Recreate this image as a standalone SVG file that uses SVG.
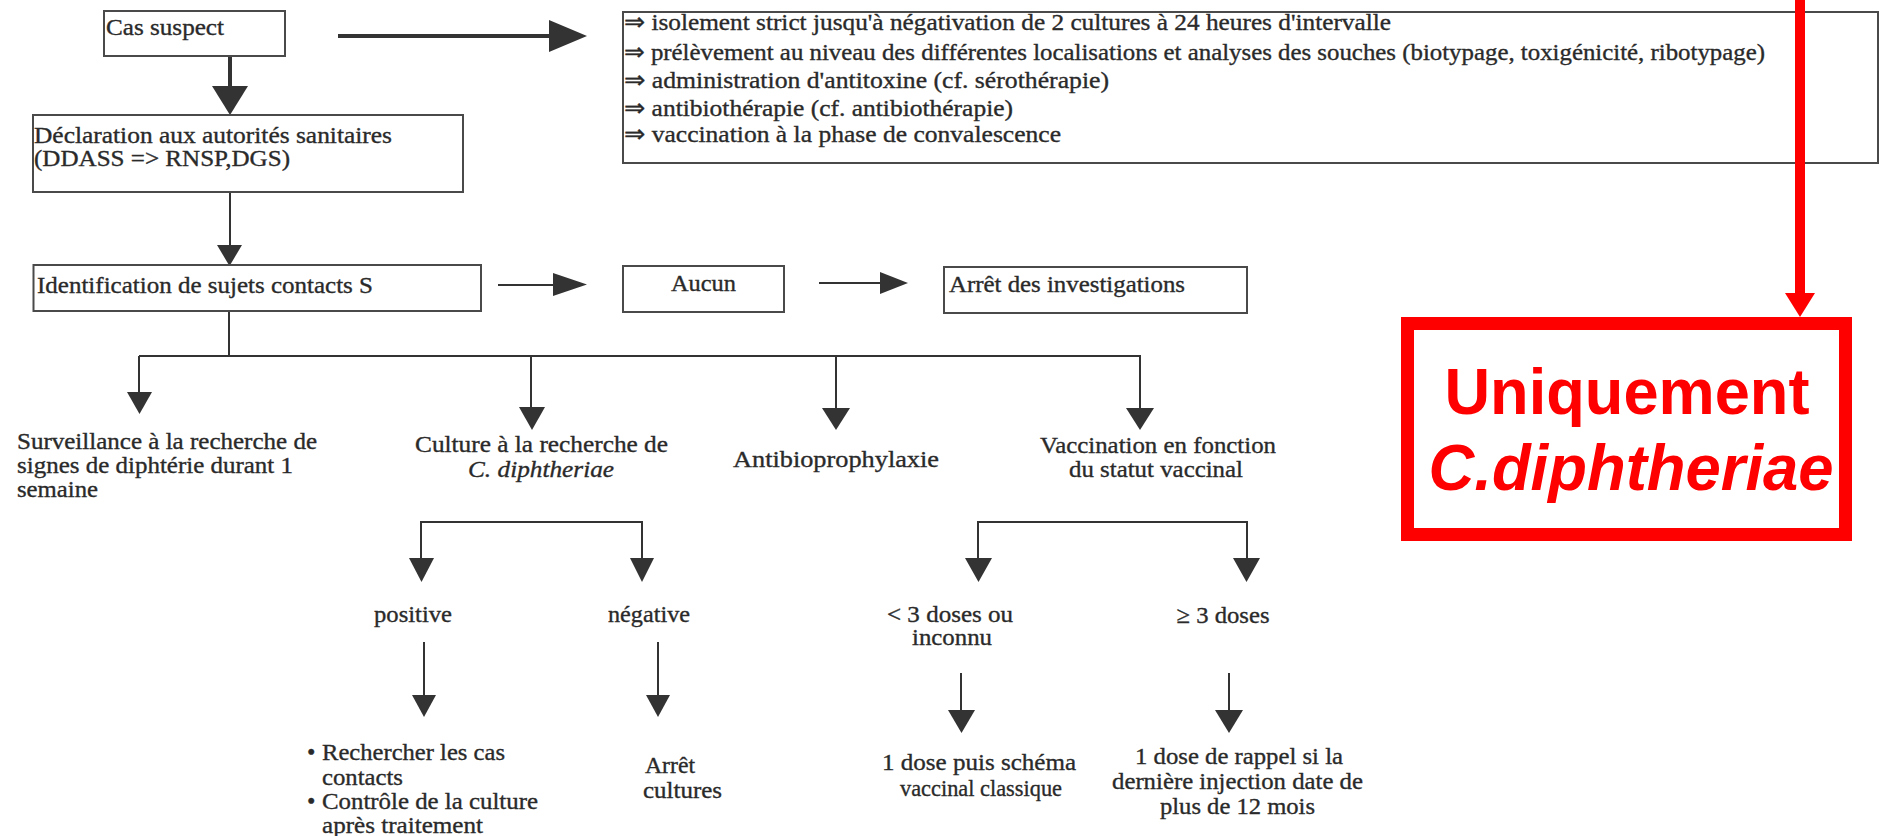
<svg xmlns="http://www.w3.org/2000/svg" width="1881" height="836" viewBox="0 0 1881 836">
<style>
  .bx{fill:none;stroke:#4a4a4a;stroke-width:2}
  .t{font-family:"Liberation Serif","Times New Roman",serif;font-size:24px;fill:#2a2a2a;stroke:#2a2a2a;stroke-width:0.35}
  .m{text-anchor:middle}
  .i{font-style:italic}
  .ln{stroke:#333;stroke-width:2;fill:none}
  .lnb{stroke:#333;stroke-width:4;fill:none}
  .hd{fill:#333}
  .red{font-family:"Liberation Sans",Arial,sans-serif;font-size:64px;font-weight:bold;fill:#ff0000;text-anchor:middle}
</style>
<rect x="0" y="0" width="1881" height="836" fill="#ffffff"/>

<g id="connectors">
  <line class="lnb" x1="230" y1="56" x2="230" y2="88"/>
  <polygon class="hd" points="212,86 248,86 230,115"/>
  <line class="lnb" x1="338" y1="36" x2="552" y2="36"/>
  <polygon class="hd" points="549,20 549,52 587,36"/>
  <line class="ln" x1="230" y1="192" x2="230" y2="247"/>
  <polygon class="hd" points="217,245 242,245 229.5,266"/>
  <line class="ln" x1="498" y1="285" x2="556" y2="285"/>
  <polygon class="hd" points="553,273 553,296 587,284.5"/>
  <line class="ln" x1="819" y1="283" x2="882" y2="283"/>
  <polygon class="hd" points="880,272 880,294 908,283"/>
  <polyline class="ln" points="229,311 229,356"/>
  <line class="ln" x1="139" y1="356" x2="1140" y2="356"/>
  <line class="ln" x1="139" y1="356" x2="139" y2="394"/>
  <polygon class="hd" points="127,392 152,392 139.5,414"/>
  <line class="ln" x1="531" y1="356" x2="531" y2="409"/>
  <polygon class="hd" points="519,407 545,407 532,430"/>
  <line class="ln" x1="836" y1="356" x2="836" y2="410"/>
  <polygon class="hd" points="822,408 850,408 836,430"/>
  <line class="ln" x1="1140" y1="355" x2="1140" y2="410"/>
  <polygon class="hd" points="1126,408 1154,408 1140,430"/>
  <polyline class="ln" points="421,560 421,522 642,522 642,560"/>
  <polygon class="hd" points="409,558 434,558 421.5,582"/>
  <polygon class="hd" points="630,558 654,558 642,582"/>
  <line class="ln" x1="424" y1="642" x2="424" y2="697"/>
  <polygon class="hd" points="412,695 436,695 424,717"/>
  <line class="ln" x1="658" y1="642" x2="658" y2="697"/>
  <polygon class="hd" points="646,695 670,695 658,717"/>
  <polyline class="ln" points="978,560 978,522 1247,522 1247,560"/>
  <polygon class="hd" points="965,558 992,558 978.5,582"/>
  <polygon class="hd" points="1233,558 1260,558 1246.5,582"/>
  <line class="ln" x1="961" y1="673" x2="961" y2="712"/>
  <polygon class="hd" points="948,710 975,710 961.5,733"/>
  <line class="ln" x1="1229" y1="673" x2="1229" y2="712"/>
  <polygon class="hd" points="1215,710 1243,710 1229,733"/>
</g>

<g id="cas-suspect">
  <rect class="bx" x="104" y="11" width="181" height="45"/>
  <text class="t" x="106" y="35" textLength="118" lengthAdjust="spacingAndGlyphs">Cas suspect</text>
</g>

<g id="declaration">
  <rect class="bx" x="33" y="115" width="430" height="77"/>
  <text class="t" x="34" y="143" textLength="358" lengthAdjust="spacingAndGlyphs">Déclaration aux autorités sanitaires</text>
  <text class="t" x="34" y="166" textLength="256" lengthAdjust="spacingAndGlyphs">(DDASS =&gt; RNSP,DGS)</text>
</g>

<g id="mesures">
  <rect class="bx" x="623" y="12" width="1255" height="151"/>
  <text class="t" x="624" y="30" textLength="767" lengthAdjust="spacingAndGlyphs">⇒ isolement strict jusqu'à négativation de 2 cultures à 24 heures d'intervalle</text>
  <text class="t" x="624" y="60" textLength="1141" lengthAdjust="spacingAndGlyphs">⇒ prélèvement au niveau des différentes localisations et analyses des souches (biotypage, toxigénicité, ribotypage)</text>
  <text class="t" x="624" y="88" textLength="485" lengthAdjust="spacingAndGlyphs">⇒ administration d'antitoxine (cf. sérothérapie)</text>
  <text class="t" x="624" y="116" textLength="389" lengthAdjust="spacingAndGlyphs">⇒ antibiothérapie (cf. antibiothérapie)</text>
  <text class="t" x="624" y="142" textLength="437" lengthAdjust="spacingAndGlyphs">⇒ vaccination à la phase de convalescence</text>
</g>

<g id="identification">
  <rect class="bx" x="33.5" y="265" width="447.5" height="46"/>
  <text class="t" x="37" y="293" textLength="336" lengthAdjust="spacingAndGlyphs">Identification de sujets contacts S</text>
</g>

<g id="aucun">
  <rect class="bx" x="623" y="266" width="161" height="46"/>
  <text class="t m" x="703.5" y="291" textLength="65" lengthAdjust="spacingAndGlyphs">Aucun</text>
</g>

<g id="arret-investigations">
  <rect class="bx" x="944" y="267" width="303" height="46"/>
  <text class="t" x="949" y="292" textLength="236" lengthAdjust="spacingAndGlyphs">Arrêt des investigations</text>
</g>

<g id="surveillance">
  <text class="t" x="17" y="449" textLength="300" lengthAdjust="spacingAndGlyphs">Surveillance à la recherche de</text>
  <text class="t" x="17" y="473" textLength="276" lengthAdjust="spacingAndGlyphs">signes de diphtérie durant 1</text>
  <text class="t" x="17" y="497" textLength="81" lengthAdjust="spacingAndGlyphs">semaine</text>
</g>

<g id="culture">
  <text class="t m" x="541.5" y="452" textLength="253" lengthAdjust="spacingAndGlyphs">Culture à la recherche de</text>
  <text class="t m i" x="541" y="477" textLength="146" lengthAdjust="spacingAndGlyphs">C. diphtheriae</text>
</g>

<g id="antibioprophylaxie">
  <text class="t m" x="836" y="467" textLength="206" lengthAdjust="spacingAndGlyphs">Antibioprophylaxie</text>
</g>

<g id="vaccination">
  <text class="t m" x="1158" y="453" textLength="236" lengthAdjust="spacingAndGlyphs">Vaccination en fonction</text>
  <text class="t m" x="1156" y="477" textLength="174" lengthAdjust="spacingAndGlyphs">du statut vaccinal</text>
</g>

<g id="positive">
  <text class="t m" x="413" y="622" textLength="78" lengthAdjust="spacingAndGlyphs">positive</text>
</g>

<g id="negative">
  <text class="t m" x="649" y="622" textLength="82" lengthAdjust="spacingAndGlyphs">négative</text>
</g>

<g id="positive-actions">
  <text class="t" x="307" y="760">•</text>
  <text class="t" x="322" y="760" textLength="183" lengthAdjust="spacingAndGlyphs">Rechercher les cas</text>
  <text class="t" x="322" y="785" textLength="81" lengthAdjust="spacingAndGlyphs">contacts</text>
  <text class="t" x="307" y="809">•</text>
  <text class="t" x="322" y="809" textLength="216" lengthAdjust="spacingAndGlyphs">Contrôle de la culture</text>
  <text class="t" x="322" y="833" textLength="161" lengthAdjust="spacingAndGlyphs">après traitement</text>
</g>

<g id="arret-cultures">
  <text class="t" x="645" y="773" textLength="50" lengthAdjust="spacingAndGlyphs">Arrêt</text>
  <text class="t" x="643" y="798" textLength="79" lengthAdjust="spacingAndGlyphs">cultures</text>
</g>

<g id="moins-3-doses">
  <text class="t m" x="950" y="622" textLength="126" lengthAdjust="spacingAndGlyphs">&lt; 3 doses ou</text>
  <text class="t m" x="952" y="645" textLength="80" lengthAdjust="spacingAndGlyphs">inconnu</text>
</g>

<g id="plus-3-doses">
  <text class="t m" x="1223" y="623" textLength="93" lengthAdjust="spacingAndGlyphs">≥ 3 doses</text>
</g>

<g id="schema-classique">
  <text class="t m" x="979" y="770" textLength="194" lengthAdjust="spacingAndGlyphs">1 dose puis schéma</text>
  <text class="t m" x="981" y="796" textLength="162" lengthAdjust="spacingAndGlyphs">vaccinal classique</text>
</g>

<g id="rappel">
  <text class="t m" x="1239" y="764" textLength="208" lengthAdjust="spacingAndGlyphs">1 dose de rappel si la</text>
  <text class="t m" x="1237.5" y="789" textLength="251" lengthAdjust="spacingAndGlyphs">dernière injection date de</text>
  <text class="t m" x="1237.5" y="814" textLength="155" lengthAdjust="spacingAndGlyphs">plus de 12 mois</text>
</g>

<g id="annotation">
  <line x1="1800" y1="0" x2="1800" y2="295" stroke="#ff0000" stroke-width="10"/>
  <polygon points="1785,293 1815,293 1800,317" fill="#ff0000"/>
  <rect x="1407.5" y="323.5" width="438" height="211" fill="none" stroke="#ff0000" stroke-width="13"/>
  <text class="red" x="1627" y="414" textLength="365" lengthAdjust="spacingAndGlyphs">Uniquement</text>
  <text class="red" x="1631" y="490" font-style="italic" textLength="405" lengthAdjust="spacingAndGlyphs">C.diphtheriae</text>
</g>
</svg>
